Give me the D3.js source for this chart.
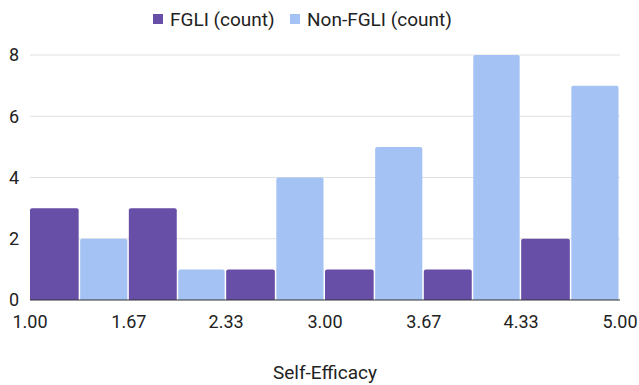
<!DOCTYPE html>
<html><head><meta charset="utf-8">
<script src="https://cdn.jsdelivr.net/npm/d3@7"></script>
<style>body{margin:0;background:#fff}svg{display:block;font-family:Roboto,sans-serif}</style>
</head><body><svg id="c" width="639" height="385"></svg>
<script>
const binEdges = [1.00, 1.67, 2.33, 3.00, 3.67, 4.33, 5.00];
const tickLabels = ["1.00","1.67","2.33","3.00","3.67","4.33","5.00"];
const seriesNames = ["FGLI (count)", "Non-FGLI (count)"];
const fgli = [3, 3, 1, 1, 1, 2];
const nonFgli = [2, 1, 4, 5, 8, 7];
const yTicks = [0, 2, 4, 6, 8];
const colors = ["#674ea7", "#a4c2f4"];

const svg = d3.select("#c");
const x = d3.scaleLinear().domain([1, 5]).range([30, 620]);
const y = d3.scaleLinear().domain([0, 8]).range([300, 55]);

// gridlines
svg.append("g").selectAll("line").data(yTicks.filter(d => d > 0)).join("line")
  .attr("x1", 30).attr("x2", 620).attr("y1", d => y(d)).attr("y2", d => y(d))
  .attr("stroke", "#e0e0e0").attr("stroke-width", 1);

// y labels
svg.append("g").selectAll("text").data(yTicks).join("text")
  .attr("x", 19).attr("y", d => y(d)).attr("dy", "0.35em")
  .attr("text-anchor", "end").attr("font-size", 18).attr("fill", "#222")
  .text(d => d);

// bars
const bars = [];
for (let i = 0; i < fgli.length; i++) {
  const x0 = x(binEdges[i]), x1 = x(binEdges[i + 1]);
  const mid = (x0 + x1) / 2;
  bars.push({ l: x0, r: mid - 0.75, v: fgli[i], c: colors[0] });
  bars.push({ l: mid + 0.75, r: x1 - 1.5, v: nonFgli[i], c: colors[1] });
}
function barPath(d) {
  const r = 2, t = y(d.v), b = y(0);
  return `M${d.l},${b}V${t + r}Q${d.l},${t} ${d.l + r},${t}H${d.r - r}Q${d.r},${t} ${d.r},${t + r}V${b}Z`;
}
svg.append("g").selectAll("path").data(bars).join("path")
  .attr("d", barPath).attr("fill", d => d.c);

// baseline
svg.append("line").attr("x1", 30).attr("x2", 620).attr("y1", y(0)).attr("y2", y(0))
  .attr("stroke", "#333").attr("stroke-width", 1);

// x labels
svg.append("g").selectAll("text").data(binEdges).join("text")
  .attr("x", d => x(d)).attr("y", 328).attr("text-anchor", "middle")
  .attr("font-size", 18).attr("fill", "#222")
  .text((d, i) => tickLabels[i]);

// x title
svg.append("text").attr("x", 325).attr("y", 379).attr("text-anchor", "middle")
  .attr("font-size", 19).attr("fill", "#222").text("Self-Efficacy");

// legend
const legX = [153, 290];
const lg = svg.append("g").selectAll("g").data(seriesNames).join("g")
  .attr("transform", (d, i) => `translate(${legX[i]},14)`);
lg.append("rect").attr("width", 10).attr("height", 10).attr("fill", (d, i) => colors[i]);
lg.append("text").attr("x", 17).attr("y", 11.5).attr("font-size", 19).attr("fill", "#222").text(d => d);
</script></body></html>
